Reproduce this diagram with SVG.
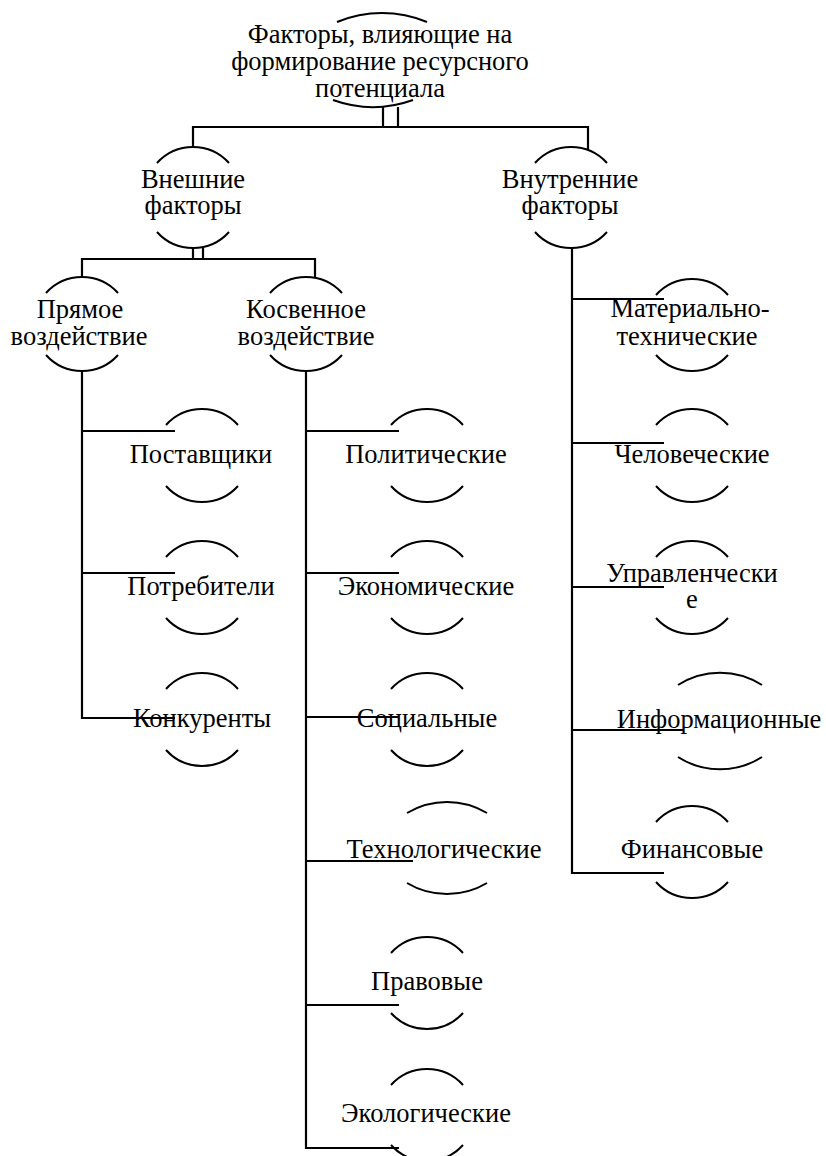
<svg xmlns="http://www.w3.org/2000/svg" width="826" height="1156" viewBox="0 0 826 1156">
<style>
text{font-family:'Liberation Serif','Times New Roman',serif;font-size:26.5px;fill:#000;text-anchor:middle}
.a{fill:none;stroke:#000;stroke-width:2}
.c{fill:none;stroke:#000;stroke-width:2.2}
</style>
<rect width="826" height="1156" fill="#fff"/>
<g id="connectors" class="c">
<path d="M383,107V127M398,107V127"/>
<path d="M193,147V127H588V150"/>
<path d="M193,248V259M203,248V259"/>
<path d="M82,277V259H315V278"/>
<path d="M82,371V718H175M82,431H175M82,573H175"/>
<path d="M306,371V1148H399M306,431H399M306,573H399M306,717H399M306,861H413M306,1005H399"/>
<path d="M572,248V873H664M572,299H664M572,443H664M572,587H664M572,730H683"/>
</g>
<g id="n-top"><path class="a" d="M337,22A117,117 0 0 1 427,22M333,100A118,118 0 0 0 413,100"/><text x="380" y="43">Факторы, влияющие на</text><text x="380" y="70">формирование ресурсного</text><text x="380" y="97">потенциала</text></g>
<g id="n-ext"><path class="a" d="M157,163A48.5,48.5 0 0 1 229,163M157,232A48.5,48.5 0 0 0 229,232"/><text x="193" y="188">Внешние</text><text x="193" y="214">факторы</text></g>
<g id="n-int"><path class="a" d="M535,163A48.5,48.5 0 0 1 607,163M535,232A48.5,48.5 0 0 0 607,232"/><text x="570" y="188">Внутренние</text><text x="570" y="214">факторы</text></g>
<g id="n-direct"><path class="a" d="M46,293A48.5,48.5 0 0 1 118,293M46,355A48.5,48.5 0 0 0 118,355"/><text x="80" y="318">Прямое</text><text x="79" y="345">воздействие</text></g>
<g id="n-indirect"><path class="a" d="M270,293A48.5,48.5 0 0 1 342,293M270,355A48.5,48.5 0 0 0 342,355"/><text x="306" y="318">Косвенное</text><text x="306" y="345">воздействие</text></g>
<g id="n-suppliers"><path class="a" d="M166,425A48.5,48.5 0 0 1 238,425M166,486A48.5,48.5 0 0 0 238,486"/><text x="201" y="463">Поставщики</text></g>
<g id="n-consumers"><path class="a" d="M166,557A48.5,48.5 0 0 1 238,557M166,618A48.5,48.5 0 0 0 238,618"/><text x="201" y="595">Потребители</text></g>
<g id="n-competitors"><path class="a" d="M166,689A48.5,48.5 0 0 1 238,689M166,750A48.5,48.5 0 0 0 238,750"/><text x="202" y="727">Конкуренты</text></g>
<g id="n-political"><path class="a" d="M391,425A48.5,48.5 0 0 1 463,425M391,486A48.5,48.5 0 0 0 463,486"/><text x="426" y="463">Политические</text></g>
<g id="n-economic"><path class="a" d="M391,557A48.5,48.5 0 0 1 463,557M391,618A48.5,48.5 0 0 0 463,618"/><text x="426" y="595">Экономические</text></g>
<g id="n-social"><path class="a" d="M391,689A48.5,48.5 0 0 1 463,689M391,750A48.5,48.5 0 0 0 463,750"/><text x="427" y="727">Социальные</text></g>
<g id="n-tech"><path class="a" d="M407,813A78,78 0 0 1 487,813M407,883A78,78 0 0 0 487,883"/><text x="444" y="858">Технологические</text></g>
<g id="n-legal"><path class="a" d="M391,953A48.5,48.5 0 0 1 463,953M391,1013A48.5,48.5 0 0 0 463,1013"/><text x="427" y="990">Правовые</text></g>
<g id="n-eco"><path class="a" d="M391,1085A48.5,48.5 0 0 1 463,1085M391,1145A48.5,48.5 0 0 0 463,1145"/><text x="426" y="1122">Экологические</text></g>
<g id="n-material"><path class="a" d="M656,295A48.5,48.5 0 0 1 728,295M656,355A48.5,48.5 0 0 0 728,355"/><text x="690" y="317">Материально-</text><text x="687" y="345">технические</text></g>
<g id="n-human"><path class="a" d="M656,425A48.5,48.5 0 0 1 728,425M656,486A48.5,48.5 0 0 0 728,486"/><text x="692" y="463">Человеческие</text></g>
<g id="n-manage"><path class="a" d="M656,557A48.5,48.5 0 0 1 728,557M656,618A48.5,48.5 0 0 0 728,618"/><text x="692" y="582">Управленчески</text><text x="692" y="608">е</text></g>
<g id="n-info"><path class="a" d="M678,685A78,78 0 0 1 762,685M678,757A78,78 0 0 0 762,757"/><text x="719" y="728">Информационные</text></g>
<g id="n-fin"><path class="a" d="M656,822A48.5,48.5 0 0 1 728,822M656,882A48.5,48.5 0 0 0 728,882"/><text x="692" y="858">Финансовые</text></g>
</svg>
